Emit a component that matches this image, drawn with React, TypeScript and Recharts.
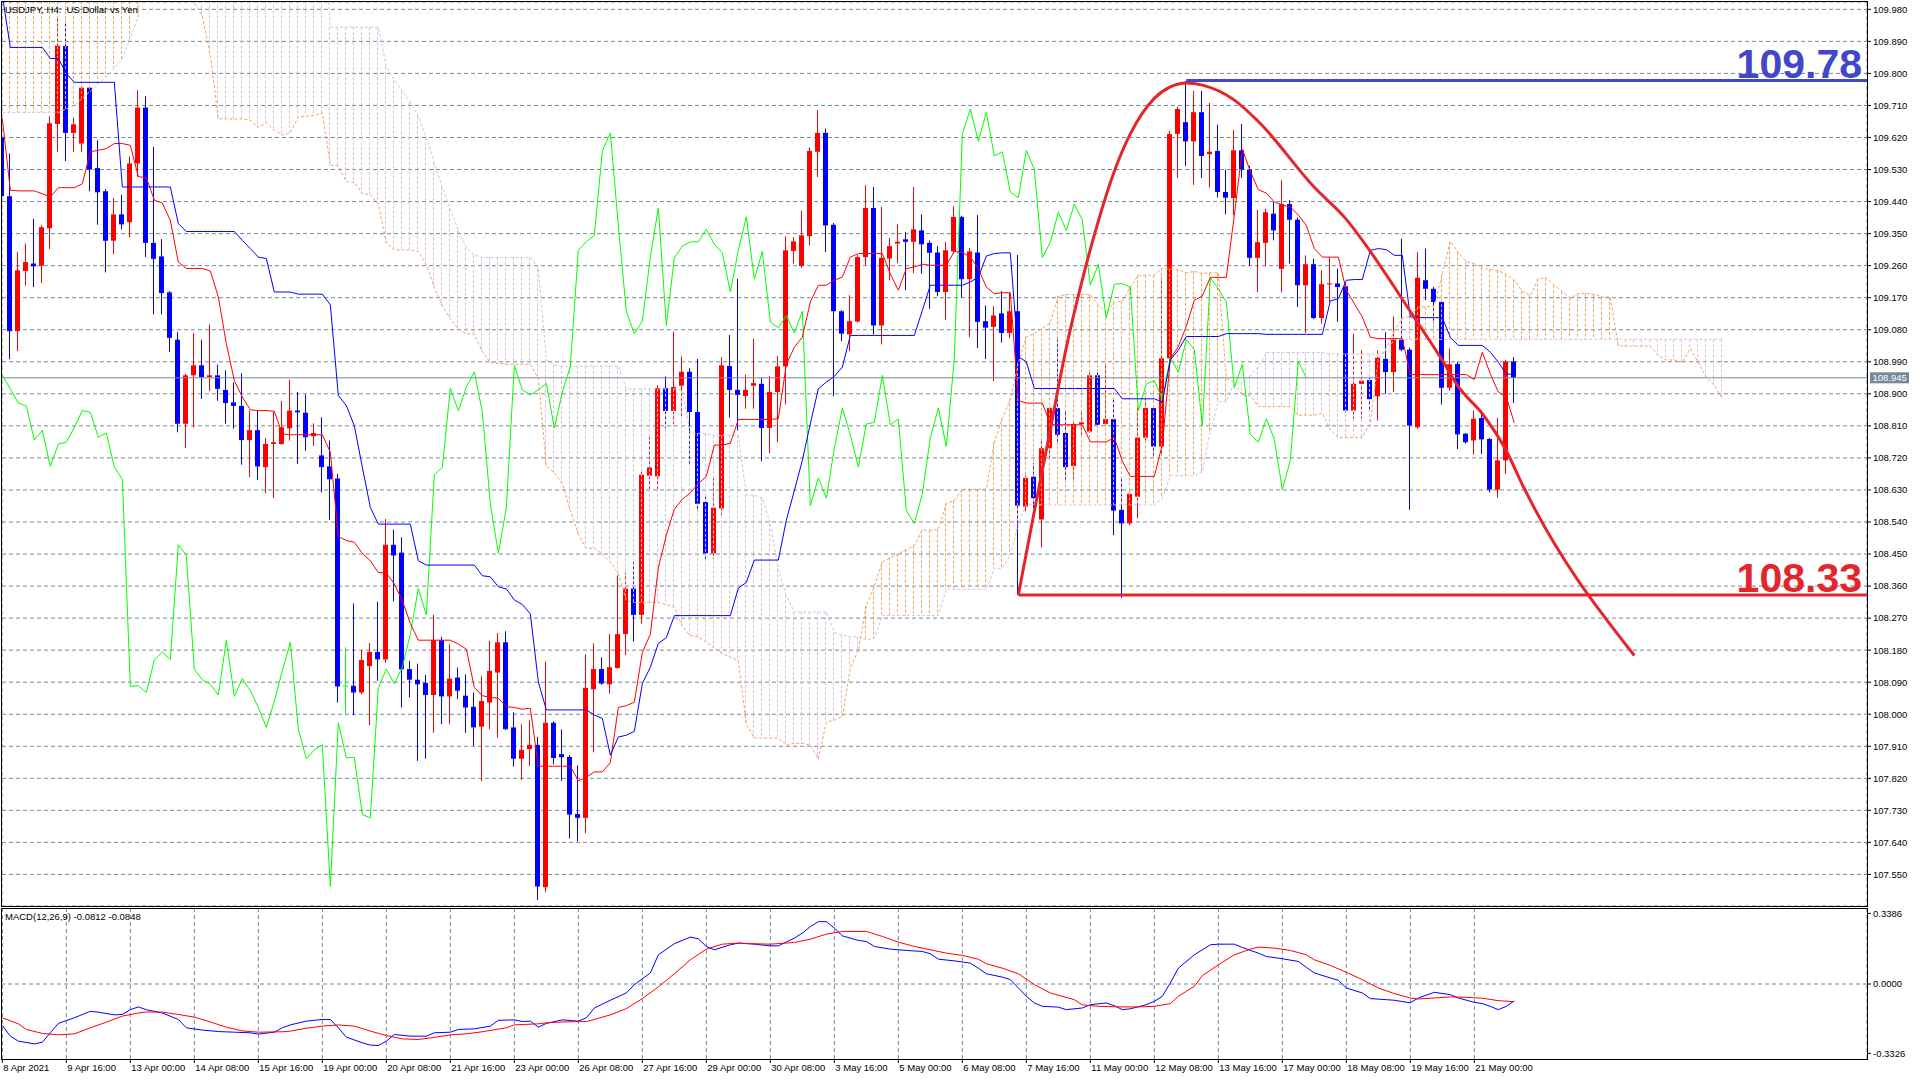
import React from "react";
import { ComposedChart, Bar, Line, XAxis, YAxis, CartesianGrid, ReferenceLine } from "recharts";

const FONT = "'Liberation Sans', Arial, Helvetica, sans-serif";
const BULL = "#ff0000";
const BEAR = "#0000ff";
const DOJI = "#00ff00";
const SANDY = "#f4a460";
const THISTLE = "#d8bfd8";
const GRID = "#778899";
const LEVEL_BLUE = "#4048c8";
const LEVEL_RED = "#e4262c";

// ---- candles (H4 bars, index 0 = 8 Apr 2021) ----
const opens = [109.62,109.455,109.076,109.245,109.266,109.26,109.365,109.658,109.877,109.633,109.603,109.76,109.534,109.469,109.33,109.404,109.382,109.547,109.704,109.324,109.286,109.185,109.052,108.816,108.952,108.98,108.947,108.952,108.911,108.876,108.866,108.77,108.798,108.694,108.759,108.759,108.803,108.853,108.847,108.781,108.727,108.696,108.662,108.08,108.08,108.061,108.135,108.175,108.154,108.476,108.454,108.127,108.097,108.088,108.054,108.208,108.05,108.103,108.052,108.021,107.965,108.033,108.117,108.202,107.963,107.875,107.902,107.914,107.514,107.976,107.888,107.88,107.72,107.709,108.07,108.127,108.084,108.13,108.225,108.353,108.279,108.67,108.668,108.916,108.852,108.923,108.962,108.849,108.596,108.452,108.578,108.978,108.911,108.894,108.923,108.928,108.804,108.905,108.977,109.301,109.259,109.343,109.58,109.633,109.375,109.132,109.067,109.103,109.284,109.422,109.092,109.28,109.322,109.334,109.327,109.359,109.324,109.297,109.186,109.3,109.397,109.222,109.297,109.104,109.088,109.126,109.071,109.132,108.583,108.667,108.547,108.747,108.86,108.79,108.697,108.815,108.794,108.952,108.815,108.829,108.574,108.536,108.611,108.777,108.86,108.752,109.0,109.63,109.663,109.609,109.691,109.573,109.582,109.467,109.45,109.584,109.53,109.282,109.324,109.406,109.251,109.433,109.389,109.205,109.264,109.113,109.207,109.21,109.202,108.853,108.928,108.939,108.893,108.998,108.961,109.052,109.024,108.806,109.219,109.195,109.158,108.917,108.984,108.788,108.769,108.832,108.773,108.631,108.713,108.991];
const highs = [109.7,109.575,109.298,109.322,109.392,109.373,109.68,109.959,109.948,109.676,109.765,109.763,109.612,109.475,109.45,109.459,109.567,109.753,109.736,109.594,109.335,109.189,109.073,108.957,109.071,109.052,109.095,108.982,108.966,108.932,108.958,108.853,108.853,108.776,108.85,108.88,108.94,108.905,108.898,108.817,108.834,108.769,108.675,108.188,108.311,108.18,108.2,108.316,108.548,108.518,108.497,108.15,108.142,108.111,108.279,108.217,108.197,108.131,108.112,108.061,108.108,108.206,108.228,108.233,108.005,107.972,107.983,107.936,108.148,107.98,107.957,107.885,107.856,108.168,108.199,108.16,108.225,108.39,108.398,108.426,108.681,108.78,108.924,108.949,109.075,109.005,108.972,108.998,108.612,108.663,109.003,109.065,109.223,108.954,109.055,108.945,108.95,109.006,109.342,109.34,109.414,109.592,109.697,109.645,109.38,109.135,109.177,109.29,109.486,109.481,109.425,109.338,109.376,109.355,109.481,109.404,109.331,109.315,109.327,109.427,109.4,109.31,109.402,109.148,109.146,109.189,109.184,109.29,108.67,108.706,108.772,108.862,109.052,108.853,108.82,108.85,108.96,108.96,108.981,108.886,108.664,108.625,108.862,108.891,108.865,109.227,109.639,109.707,109.779,109.751,109.751,109.717,109.656,109.53,109.641,109.658,109.54,109.416,109.42,109.439,109.5,109.444,109.395,109.289,109.28,109.247,109.284,109.252,109.21,109.069,109.022,108.945,109.022,109.073,109.117,109.336,109.03,109.298,109.308,109.2,109.165,109.027,108.99,108.79,108.853,108.853,108.776,108.833,108.995,109.003];
const lows = [109.44,108.997,109.02,109.204,109.2,109.211,109.307,109.58,109.554,109.58,109.58,109.469,109.375,109.241,109.292,109.362,109.339,109.51,109.284,109.123,109.123,109.017,108.792,108.748,108.806,108.886,108.907,108.881,108.816,108.802,108.701,108.666,108.658,108.621,108.607,108.757,108.769,108.703,108.74,108.754,108.623,108.546,108.033,108.0,107.997,108.056,107.969,108.094,108.145,108.317,108.019,108.047,107.869,107.875,107.948,107.972,107.972,108.042,107.948,107.911,107.812,107.958,107.934,107.955,107.853,107.816,107.854,107.478,107.5,107.859,107.813,107.651,107.643,107.666,107.893,108.083,108.058,108.128,108.166,108.204,108.254,108.627,108.627,108.804,108.81,108.833,108.701,108.57,108.431,108.436,108.56,108.833,108.797,108.858,108.858,108.711,108.733,108.764,108.87,109.266,109.254,109.317,109.509,109.298,108.893,109.048,109.02,109.1,109.261,109.067,109.039,109.219,109.267,109.191,109.239,109.237,109.139,109.174,109.108,109.294,109.17,109.059,109.029,108.998,108.936,109.044,109.057,108.335,108.57,108.578,108.469,108.716,108.758,108.659,108.66,108.78,108.79,108.81,108.81,108.503,108.327,108.531,108.55,108.77,108.72,108.73,108.986,109.506,109.54,109.487,109.506,109.48,109.451,109.404,109.402,109.506,109.26,109.186,109.258,109.331,109.185,109.266,109.144,109.071,109.11,109.097,109.158,109.102,108.848,108.83,108.831,108.853,108.825,108.9,108.905,109.02,108.574,108.802,109.163,109.097,108.87,108.909,108.745,108.76,108.729,108.731,108.623,108.608,108.675,108.874];
const closes = [109.455,109.076,109.247,109.27,109.258,109.368,109.66,109.878,109.633,109.657,109.76,109.53,109.466,109.33,109.404,109.376,109.547,109.704,109.324,109.279,109.183,109.057,108.816,108.952,108.98,108.947,108.952,108.914,108.874,108.866,108.77,108.798,108.696,108.759,108.764,108.806,108.853,108.848,108.778,108.79,108.694,108.66,108.078,108.08,108.061,108.152,108.175,108.154,108.476,108.446,108.126,108.097,108.084,108.054,108.208,108.05,108.1,108.066,108.019,107.963,108.037,108.122,108.202,107.958,107.875,107.9,107.914,107.516,107.976,107.877,107.879,107.718,107.709,108.074,108.127,108.086,108.132,108.225,108.353,108.279,108.673,108.693,108.916,108.852,108.919,108.962,108.849,108.591,108.452,108.58,108.98,108.911,108.897,108.911,108.93,108.804,108.905,108.977,109.303,109.328,109.345,109.582,109.633,109.373,109.132,109.069,109.104,109.284,109.422,109.092,109.282,109.315,109.327,109.327,109.362,109.32,109.296,109.186,109.303,109.397,109.222,109.3,109.102,109.086,109.12,109.071,109.132,108.586,108.664,108.607,108.747,108.86,108.785,108.694,108.815,108.82,108.952,108.813,108.829,108.572,108.536,108.619,108.777,108.86,108.752,109.0,109.63,109.7,109.609,109.691,109.568,109.58,109.467,109.451,109.584,109.53,109.282,109.326,109.41,109.359,109.433,109.389,109.205,109.264,109.113,109.208,109.21,109.2,108.853,108.928,108.937,108.885,109.001,108.961,109.052,109.024,108.811,109.226,109.195,109.158,108.917,108.983,108.786,108.764,108.83,108.772,108.631,108.713,108.991,108.945];

// ---- Ichimoku lines ----
const tenkan = [109.673,109.472,109.47,109.47,109.47,109.462,109.453,109.479,109.479,109.479,109.49,109.58,109.584,109.589,109.603,109.603,109.598,109.51,109.507,109.444,109.436,109.387,109.27,109.252,109.252,109.252,109.245,109.172,109.041,108.937,108.891,108.855,108.853,108.853,108.851,108.787,108.785,108.785,108.785,108.785,108.785,108.736,108.499,108.488,108.483,108.452,108.431,108.398,108.397,108.366,108.319,108.255,108.208,108.208,108.208,108.208,108.208,108.197,108.183,108.075,108.052,108.047,108.045,108.021,108.019,108.014,108.017,107.854,107.854,107.854,107.854,107.854,107.813,107.823,107.838,107.838,107.864,108.019,108.024,108.034,108.173,108.225,108.411,108.503,108.576,108.604,108.622,108.648,108.668,108.756,108.756,108.761,108.828,108.828,108.828,108.828,108.828,108.83,108.983,109.031,109.059,109.158,109.205,109.205,109.219,109.228,109.284,109.294,109.294,109.294,109.294,109.237,109.191,109.252,109.256,109.264,109.261,109.261,109.261,109.3,109.297,109.284,109.252,109.2,109.181,109.184,109.184,108.881,108.874,108.874,108.874,108.815,108.813,108.813,108.813,108.813,108.765,108.765,108.765,108.777,108.711,108.668,108.668,108.668,108.668,108.758,108.999,109.033,109.09,109.163,109.175,109.227,109.227,109.227,109.402,109.587,109.525,109.473,109.464,109.439,109.43,109.425,109.402,109.373,109.308,109.284,109.284,109.284,109.191,109.153,109.116,109.059,109.055,109.055,109.055,109.055,108.954,108.954,108.954,108.954,108.954,108.954,108.954,108.954,108.94,109.017,108.956,108.905,108.891,108.818];
const kijun = [110.02,109.873,109.873,109.873,109.873,109.873,109.842,109.842,109.8,109.775,109.775,109.775,109.775,109.775,109.775,109.481,109.481,109.481,109.481,109.481,109.481,109.481,109.378,109.356,109.356,109.356,109.356,109.356,109.356,109.356,109.331,109.308,109.284,109.28,109.186,109.186,109.186,109.18,109.18,109.18,109.18,109.15,108.895,108.867,108.81,108.694,108.581,108.534,108.534,108.534,108.534,108.534,108.431,108.419,108.419,108.419,108.419,108.419,108.419,108.419,108.389,108.386,108.358,108.352,108.321,108.308,108.282,108.091,108.012,108.012,108.012,108.012,108.012,108.012,107.998,107.988,107.885,107.936,107.941,107.952,108.086,108.132,108.199,108.215,108.277,108.277,108.277,108.277,108.277,108.277,108.277,108.277,108.354,108.37,108.433,108.433,108.433,108.433,108.545,108.628,108.713,108.816,108.914,108.933,108.949,108.975,109.064,109.064,109.064,109.064,109.064,109.064,109.064,109.064,109.064,109.134,109.205,109.205,109.205,109.205,109.205,109.214,109.228,109.287,109.294,109.296,109.296,109.004,108.99,108.915,108.915,108.915,108.915,108.915,108.915,108.915,108.915,108.915,108.915,108.915,108.886,108.886,108.886,108.886,108.886,108.877,108.995,109.023,109.061,109.061,109.061,109.061,109.061,109.069,109.069,109.069,109.069,109.069,109.067,109.067,109.067,109.067,109.067,109.067,109.067,109.067,109.161,109.167,109.219,109.221,109.221,109.303,109.308,109.305,109.289,109.289,109.116,109.114,109.114,109.114,109.114,109.059,109.036,109.036,109.036,109.036,109.017,108.989,108.956,108.954];
const senkouA = [110.2,110.2,110.2,110.2,110.2,110.2,110.2,110.2,110.2,110.2,110.2,110.2,110.2,110.2,110.2,110.2,110.2,110.2,110.2,110.2,110.15,110.1,110.06,110.03,110.0,109.96,109.85,109.673,109.672,109.672,109.672,109.668,109.648,109.661,109.64,109.627,109.633,109.678,109.68,109.682,109.689,109.542,109.54,109.496,109.494,109.463,109.459,109.434,109.324,109.304,109.304,109.304,109.3,109.264,109.199,109.147,109.111,109.082,109.069,109.067,109.019,108.987,108.986,108.983,108.983,108.983,108.983,108.943,108.697,108.678,108.647,108.573,108.506,108.466,108.466,108.45,108.427,108.395,108.32,108.314,108.314,108.314,108.314,108.308,108.301,108.247,108.221,108.217,108.202,108.187,108.17,108.161,108.15,107.973,107.933,107.933,107.933,107.933,107.913,107.918,107.918,107.913,107.875,107.978,107.983,107.993,108.13,108.179,108.305,108.359,108.427,108.44,108.45,108.463,108.473,108.517,108.517,108.519,108.592,108.6,108.632,108.632,108.632,108.632,108.764,108.83,108.886,108.987,109.06,109.069,109.084,109.1,109.174,109.179,109.179,109.179,109.179,109.15,109.128,109.158,109.16,109.199,109.233,109.233,109.233,109.253,109.251,109.249,109.24,109.244,109.238,109.24,109.24,108.943,108.932,108.895,108.895,108.865,108.864,108.864,108.864,108.864,108.84,108.84,108.84,108.846,108.799,108.777,108.777,108.777,108.777,108.818,108.997,109.028,109.076,109.112,109.118,109.144,109.144,109.148,109.236,109.328,109.297,109.271,109.266,109.253,109.249,109.246,109.235,109.22,109.188,109.176,109.223,109.226,109.205,109.187,109.169,109.181,109.182,109.18,109.172,109.172,109.035,109.034,109.034,109.034,109.034,109.007,108.995,108.995,108.988,109.027,108.987,108.947,108.924,108.886];
const senkouB = [109.69,109.69,109.69,109.69,109.69,109.69,109.69,109.69,109.7,109.71,109.73,109.75,109.77,109.79,109.815,109.84,109.9,109.96,110.3,110.3,110.3,110.3,110.3,110.3,110.3,110.3,110.3,110.3,110.3,110.3,110.3,110.3,110.3,110.3,110.3,110.3,110.3,110.3,110.3,110.3,110.3,109.93,109.93,109.93,109.93,109.93,109.93,109.93,109.82,109.78,109.75,109.72,109.68,109.62,109.55,109.48,109.42,109.36,109.31,109.29,109.283,109.283,109.283,109.283,109.283,109.283,109.283,109.252,108.996,108.98,108.978,108.978,108.978,108.978,108.978,108.978,108.978,108.978,108.914,108.914,108.914,108.914,108.914,108.914,108.914,108.909,108.789,108.789,108.788,108.783,108.783,108.783,108.783,108.616,108.616,108.607,108.536,108.407,108.334,108.287,108.287,108.287,108.287,108.287,108.23,108.222,108.218,108.218,108.209,108.214,108.277,108.277,108.277,108.277,108.277,108.277,108.277,108.277,108.351,108.351,108.351,108.351,108.351,108.351,108.41,108.41,108.446,108.535,108.588,108.588,108.588,108.588,108.588,108.588,108.588,108.588,108.588,108.588,108.588,108.588,108.588,108.588,108.588,108.588,108.588,108.606,108.67,108.67,108.67,108.67,108.682,108.795,108.878,108.878,108.93,108.932,108.951,108.976,109.016,109.016,109.016,109.016,109.016,109.016,109.016,109.016,109.012,109.012,109.012,109.012,109.012,109.012,109.012,109.017,109.053,109.053,109.053,109.053,109.053,109.053,109.053,109.053,109.053,109.053,109.053,109.053,109.053,109.053,109.053,109.053,109.053,109.053,109.053,109.053,109.053,109.053,109.053,109.053,109.053,109.053,109.053,109.053,109.053,109.053,109.053,109.053,109.053,109.053,109.053,109.053,109.053,109.053,109.053,109.053,109.053,109.053];

// ---- hand-drawn objects ----
const arcBars = [127,129,131,133,135,137,139,141,144,146,148,150,154,157,164,168,171,174,177,180,182,185,188,190,204];
const arcPrices = [108.335,108.57,108.8,109.03,109.22,109.385,109.525,109.63,109.73,109.762,109.773,109.767,109.725,109.665,109.48,109.39,109.3,109.2,109.097,108.994,108.92,108.844,108.74,108.645,108.165];
const levelPrices = [109.78, 108.335];
const levelFromBars = [148, 127];
const levelTexts = ["109.78", "108.33"];
const levelColors = [LEVEL_BLUE, LEVEL_RED];
const lastPrice = 108.945;

// ---- MACD(12,26,9) ----
const macdBars = [0,1,2,4,5,6,7,9,11,12,14,15,16,17,18,20,22,23,25,27,29,31,32,34,35,36,38,40,41,42,43,45,46,47,48,49,51,53,54,56,57,59,61,62,64,65,66,67,68,70,72,73,74,76,78,79,81,82,84,86,87,88,89,91,92,94,96,97,99,100,101,102,103,104,105,107,108,109,111,113,115,116,117,119,121,122,123,125,126,127,128,129,130,132,133,135,136,138,139,140,141,143,144,145,146,147,149,151,152,154,155,157,158,160,162,163,164,166,167,168,170,171,173,174,176,177,179,181,182,184,185,186,187,188,189];
const macdMain = [-0.199,-0.25,-0.274,-0.287,-0.279,-0.234,-0.189,-0.162,-0.131,-0.135,-0.148,-0.146,-0.123,-0.11,-0.123,-0.139,-0.17,-0.21,-0.221,-0.228,-0.231,-0.234,-0.24,-0.231,-0.21,-0.196,-0.178,-0.17,-0.17,-0.21,-0.255,-0.282,-0.293,-0.295,-0.274,-0.242,-0.25,-0.25,-0.234,-0.231,-0.218,-0.215,-0.202,-0.174,-0.172,-0.18,-0.178,-0.207,-0.189,-0.172,-0.178,-0.162,-0.115,-0.078,-0.043,-0.003,0.053,0.14,0.193,0.225,0.217,0.18,0.164,0.188,0.196,0.191,0.183,0.183,0.22,0.244,0.275,0.299,0.299,0.268,0.231,0.209,0.204,0.18,0.167,0.161,0.156,0.145,0.119,0.111,0.1,0.076,0.049,0.033,0.021,-0.019,-0.059,-0.091,-0.107,-0.111,-0.123,-0.115,-0.099,-0.091,-0.104,-0.123,-0.119,-0.099,-0.083,-0.059,0.005,0.076,0.14,0.188,0.191,0.191,0.175,0.148,0.132,0.121,0.108,0.08,0.053,0.029,0.018,-0.019,-0.043,-0.07,-0.075,-0.078,-0.09,-0.067,-0.04,-0.051,-0.067,-0.088,-0.094,-0.107,-0.123,-0.107,-0.0812];
const signalBars = [0,2,3,5,7,9,11,13,15,17,18,20,22,24,26,28,30,32,35,36,38,40,42,44,46,48,50,52,54,56,58,60,63,64,67,68,70,73,74,76,78,80,82,84,86,88,90,92,94,96,99,101,103,105,108,110,112,114,116,118,120,122,123,125,127,129,131,134,135,137,140,142,144,146,147,149,150,152,154,156,157,159,161,163,164,166,168,170,172,174,176,177,179,181,183,185,187,189];
const macdSignal = [-0.162,-0.191,-0.218,-0.237,-0.244,-0.239,-0.21,-0.183,-0.154,-0.139,-0.134,-0.135,-0.146,-0.159,-0.182,-0.207,-0.225,-0.231,-0.229,-0.226,-0.212,-0.202,-0.196,-0.202,-0.226,-0.247,-0.263,-0.266,-0.256,-0.244,-0.239,-0.229,-0.21,-0.196,-0.191,-0.186,-0.182,-0.18,-0.17,-0.148,-0.118,-0.07,-0.014,0.049,0.116,0.167,0.191,0.196,0.193,0.191,0.199,0.215,0.239,0.252,0.252,0.228,0.201,0.18,0.164,0.148,0.137,0.119,0.097,0.076,0.049,-0.003,-0.043,-0.075,-0.1,-0.107,-0.11,-0.11,-0.107,-0.094,-0.059,-0.011,0.04,0.092,0.14,0.167,0.177,0.172,0.161,0.14,0.116,0.089,0.056,0.021,-0.019,-0.046,-0.067,-0.072,-0.067,-0.062,-0.064,-0.068,-0.08,-0.0848];

// ---- axes ----
const priceTicks = [109.98,109.89,109.8,109.71,109.62,109.53,109.44,109.35,109.26,109.17,109.08,108.99,108.9,108.81,108.72,108.63,108.54,108.45,108.36,108.27,108.18,108.09,108.0,107.91,107.82,107.73,107.64,107.55];
const macdTicks = [0.3386, 0, -0.3326];
const timeBars = [0,8,16,24,32,40,48,56,64,72,80,88,96,104,112,120,128,136,144,152,160,168,176,184];
const timeLabels = ["8 Apr 2021","9 Apr 16:00","13 Apr 00:00","14 Apr 08:00","15 Apr 16:00","19 Apr 00:00","20 Apr 08:00","21 Apr 16:00","23 Apr 00:00","26 Apr 08:00","27 Apr 16:00","29 Apr 00:00","30 Apr 08:00","3 May 16:00","5 May 00:00","6 May 08:00","7 May 16:00","11 May 00:00","12 May 08:00","13 May 16:00","17 May 00:00","18 May 08:00","19 May 16:00","21 May 00:00"];

const X_DOMAIN: [number, number] = [-0.04125, 233.084];
const PRICE_DOMAIN: [number, number] = [107.4613, 110.0006];
const MACD_DOMAIN: [number, number] = [-0.3596, 0.3644];
const gridBars: number[] = [];
for (let g = 0; g <= 232; g += 4) gridBars.push(g);

const N_ROWS = senkouA.length;
const rows = Array.from({ length: N_ROWS }, (_, k) => {
  const hasCandle = k < opens.length;
  const a = senkouA[k];
  const b = senkouB[k];
  const vals = hasCandle ? [a, b, highs[k], lows[k]] : [a, b];
  const ai = arcBars.indexOf(k);
  return {
    k,
    o: hasCandle ? opens[k] : null,
    h: hasCandle ? highs[k] : null,
    l: hasCandle ? lows[k] : null,
    c: hasCandle ? closes[k] : null,
    a,
    b,
    lo: Math.min(...vals),
    hi: Math.max(...vals),
    tenkan: hasCandle ? tenkan[k] : null,
    kijun: hasCandle ? kijun[k] : null,
    chikou: k + 26 < closes.length ? closes[k + 26] : null,
    arc: ai >= 0 ? arcPrices[ai] : null,
  };
});

const macdRows = Array.from({ length: opens.length }, (_, k) => {
  const mi = macdBars.indexOf(k);
  const si = signalBars.indexOf(k);
  return { k, main: mi >= 0 ? macdMain[mi] : null, signal: si >= 0 ? macdSignal[si] : null };
});

function CandleCloud(props: any) {
  const { x, y, width, height, payload } = props;
  if (!payload || x == null || y == null) return null;
  const top = Math.min(y, y + height);
  const h = Math.abs(height);
  const span = payload.hi - payload.lo;
  if (!(span > 0) || !(h > 0)) return null;
  const py = (p: number) => top + ((payload.hi - p) / span) * h;
  const cx = Math.floor(x + width / 2) + 0.5;
  const parts: React.ReactNode[] = [];
  if (payload.o != null) {
    const col = payload.c > payload.o ? BULL : payload.c < payload.o ? BEAR : DOJI;
    const yT = py(Math.max(payload.o, payload.c));
    const yB = py(Math.min(payload.o, payload.c));
    parts.push(<line key="w" x1={cx} x2={cx} y1={py(payload.h)} y2={py(payload.l)} stroke={col} strokeWidth={1} />);
    parts.push(<rect key="b" x={cx - 2.5} y={yT} width={5} height={Math.max(1, yB - yT)} fill={col} />);
  }
  if (payload.a != null && payload.b != null) {
    const col = payload.a >= payload.b ? SANDY : THISTLE;
    parts.push(
      <line key="c" x1={cx} x2={cx} y1={py(Math.max(payload.a, payload.b))} y2={py(Math.min(payload.a, payload.b))}
        stroke={col} strokeWidth={1} strokeDasharray="3 2" />
    );
  }
  return <g>{parts}</g>;
}

function LevelLabel(props: any) {
  const vb = props.viewBox || {};
  return (
    <text x={vb.x + vb.width - 5} y={vb.y - 3} textAnchor="end" fill={props.color} fontSize={41}
      fontWeight="bold" fontFamily={FONT}>{props.text}</text>
  );
}

function PriceBox(props: any) {
  const vb = props.viewBox || {};
  const x0 = vb.x + vb.width + 3;
  return (
    <g>
      <rect x={x0} y={vb.y - 5.5} width={39} height={11} fill={GRID} />
      <text x={x0 + 2.5} y={vb.y + 3.5} fill="#ffffff" fontSize={9.5} fontFamily={FONT}>{props.value.toFixed(3)}</text>
    </g>
  );
}

function TimeTick(props: any) {
  const { x, y, payload } = props;
  const i = timeBars.indexOf(payload.value);
  return (
    <text x={x + 1} y={y + 8} fill="#000" fontSize={9.5} fontFamily={FONT} textAnchor="start">{timeLabels[i]}</text>
  );
}

const tickStyle = { fontSize: 9.5, fill: "#000", fontFamily: FONT };

export default function App() {
  return (
    <div style={{ position: "absolute", left: 0, top: 0, width: 1920, height: 1080, background: "#fff", overflow: "hidden" }}>
      <div style={{ position: "absolute", left: 0, top: 0 }}>
        <ComposedChart width={1920} height={907} data={rows} margin={{ top: 2, right: 0, bottom: 1, left: 2 }}>
          <CartesianGrid stroke={GRID} strokeDasharray="4 3" />
          <XAxis dataKey="k" type="number" domain={X_DOMAIN} allowDataOverflow ticks={gridBars} interval={0}
            tick={false} tickLine={false} axisLine={false} height={0} />
          <YAxis orientation="right" type="number" domain={PRICE_DOMAIN} allowDataOverflow ticks={priceTicks}
            interval={0} width={53} tickSize={4} tickMargin={2} axisLine={false} tickLine={{ stroke: "#000" }}
            tick={tickStyle} tickFormatter={(v: number) => v.toFixed(3)} />
          <ReferenceLine y={lastPrice} stroke={GRID} strokeWidth={1}
            label={(p: any) => <PriceBox {...p} value={lastPrice} />} />
          <Bar dataKey={(d: any) => [d.lo, d.hi]} barSize={5} isAnimationActive={false}
            shape={(p: any) => <CandleCloud {...p} />} />
          <Line dataKey="a" stroke={SANDY} strokeWidth={1} strokeDasharray="3 2" dot={false} activeDot={false} isAnimationActive={false} />
          <Line dataKey="b" stroke={THISTLE} strokeWidth={1} strokeDasharray="3 2" dot={false} activeDot={false} isAnimationActive={false} />
          <Line dataKey="chikou" stroke="#00ff00" strokeWidth={1} dot={false} activeDot={false} isAnimationActive={false} />
          <Line dataKey="tenkan" stroke="#ff0000" strokeWidth={1} dot={false} activeDot={false} isAnimationActive={false} />
          <Line dataKey="kijun" stroke="#0000ff" strokeWidth={1} dot={false} activeDot={false} isAnimationActive={false} />
          <Line dataKey="arc" type="monotone" connectNulls stroke={LEVEL_RED} strokeWidth={3} dot={false} activeDot={false} isAnimationActive={false} />
          {levelPrices.map((p, i) => (
            <ReferenceLine key={i} ifOverflow="visible"
              segment={[{ x: levelFromBars[i], y: p }, { x: X_DOMAIN[1], y: p }]}
              stroke={levelColors[i]} strokeWidth={3}
              label={(lp: any) => <LevelLabel {...lp} text={levelTexts[i]} color={levelColors[i]} />} />
          ))}
        </ComposedChart>
      </div>
      <div style={{ position: "absolute", left: 0, top: 907 }}>
        <ComposedChart width={1920} height={173} data={macdRows} margin={{ top: 1, right: 0, bottom: 0, left: 2 }}>
          <CartesianGrid stroke={GRID} strokeDasharray="4 3" horizontal={false} />
          <XAxis dataKey="k" type="number" domain={X_DOMAIN} allowDataOverflow ticks={timeBars} interval={0}
            height={21} tickSize={4} tickMargin={0} axisLine={false} tickLine={{ stroke: "#000" }}
            tick={(p: any) => <TimeTick {...p} />} />
          <YAxis orientation="right" type="number" domain={MACD_DOMAIN} allowDataOverflow ticks={macdTicks}
            interval={0} width={53} tickSize={4} tickMargin={2} axisLine={false} tickLine={{ stroke: "#000" }}
            tick={tickStyle} tickFormatter={(v: number) => v.toFixed(4)} />
          <ReferenceLine y={0} stroke={GRID} strokeDasharray="4 3" />
          <Line dataKey="main" connectNulls stroke="#0000ff" strokeWidth={1} dot={false} activeDot={false} isAnimationActive={false} />
          <Line dataKey="signal" connectNulls stroke="#ff0000" strokeWidth={1} dot={false} activeDot={false} isAnimationActive={false} />
        </ComposedChart>
      </div>
      <div style={{ position: "absolute", left: 1, top: 1, width: 1867, height: 906, border: "1px solid #000", boxSizing: "border-box", pointerEvents: "none" }} />
      <div style={{ position: "absolute", left: 1, top: 908, width: 1867, height: 152, border: "1px solid #000", boxSizing: "border-box", pointerEvents: "none" }} />
      <div style={{ position: "absolute", left: 5, top: 5, fontFamily: FONT, fontSize: 9.5, lineHeight: "10px", color: "#000", whiteSpace: "pre" }}>
        {"USDJPY, H4:  US Dollar vs Yen"}
      </div>
      <div style={{ position: "absolute", left: 5, top: 912, fontFamily: FONT, fontSize: 9.5, lineHeight: "10px", color: "#000", whiteSpace: "pre" }}>
        {"MACD(12,26,9) -0.0812 -0.0848"}
      </div>
    </div>
  );
}
